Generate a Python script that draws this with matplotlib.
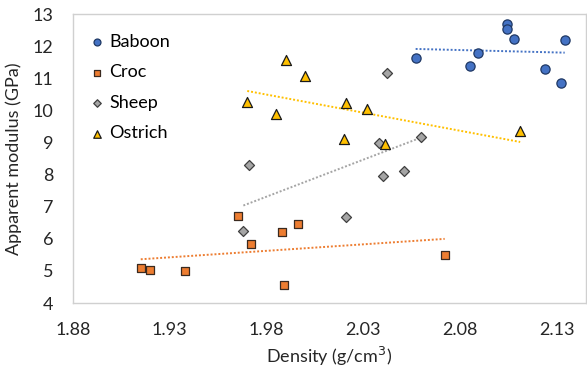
import numpy as np
import matplotlib
matplotlib.use("Agg")
import matplotlib.pyplot as plt

plt.rcParams["font.family"] = ["Lato", "DejaVu Sans"]

# density (g/cm3) and apparent modulus (GPa) per species
baboon_x = [2.057, 2.085, 2.089, 2.104, 2.104, 2.108, 2.124, 2.132, 2.134]
baboon_y = [11.63, 11.38, 11.79, 12.69, 12.53, 12.22, 11.29, 10.85, 12.19]

croc_x = [1.915, 1.920, 1.938, 1.965, 1.972, 1.988, 1.996, 1.989, 2.072]
croc_y = [5.09, 5.02, 4.99, 6.71, 5.83, 6.21, 6.46, 4.56, 5.49]

sheep_x = [1.971, 1.968, 2.021, 2.040, 2.051, 2.042, 2.038, 2.060]
sheep_y = [8.30, 6.24, 6.68, 7.95, 8.11, 11.16, 8.98, 9.17]

ostrich_x = [1.990, 2.000, 1.970, 1.985, 2.021, 2.032, 2.020, 2.041, 2.111]
ostrich_y = [11.57, 11.07, 10.26, 9.88, 10.23, 10.04, 9.11, 8.95, 9.36]

x_ticks = [1.88, 1.93, 1.98, 2.03, 2.08, 2.13]
y_ticks = list(range(4, 14))

series = [
    ("Baboon", baboon_x, baboon_y, "o", "#4472C4", "#1F3864", 44),
    ("Croc", croc_x, croc_y, "s", "#ED7D31", "#3A2A20", 40),
    ("Sheep", sheep_x, sheep_y, "D", "#A5A5A5", "#404040", 26),
    ("Ostrich", ostrich_x, ostrich_y, "^", "#FFC000", "#1A1A1A", 52),
]

fig = plt.figure(figsize=(5.87, 3.69), dpi=100)
ax = fig.add_axes([73 / 587, 1 - 303 / 369, 513 / 587, 289 / 369])

for name, xs, ys, mk, fc, ec, s in series:
    ax.scatter(xs, ys, marker=mk, s=s, facecolor=fc, edgecolor=ec,
               linewidths=0.9, zorder=3, label=name)
    # linear trendline over the data range
    k, b = np.polyfit(xs, ys, 1)
    tx = np.array([min(xs), max(xs)])
    ax.plot(tx, k * tx + b, ls=(0, (1, 1)), color=fc, lw=1.4, zorder=2)

ax.set_xlim(1.88, 2.145)
ax.set_ylim(4, 13)
ax.set_xticks(x_ticks)
ax.set_xticklabels([f"{t:.2f}" for t in x_ticks])
ax.set_yticks(y_ticks)
ax.tick_params(length=0, labelsize=13, labelcolor="#262626", pad=14)
for sp in ax.spines.values():
    sp.set_color("#D0D0D0")
    sp.set_linewidth(1.0)

ax.set_xlabel("Density (g/cm$^3$)", fontsize=13, color="#262626", labelpad=5)
ax.set_ylabel("Apparent modulus (GPa)", fontsize=13, color="#262626", labelpad=8)

leg = ax.legend(loc="upper left", bbox_to_anchor=(0.012, 0.956), frameon=False,
                fontsize=13, handletextpad=0.05, labelspacing=0.8,
                markerscale=0.75, handlelength=1.2, borderaxespad=0)

fig.savefig("out.png", dpi=100)
